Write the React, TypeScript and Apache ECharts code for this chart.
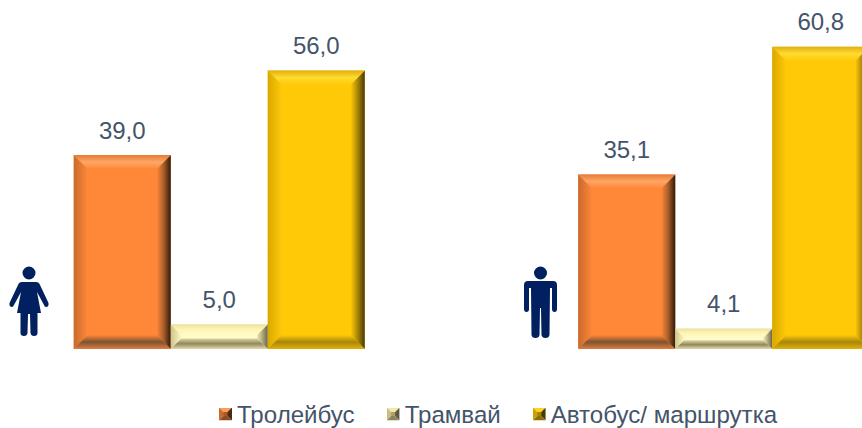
import React, { useEffect, useRef } from "react";
import * as echarts from "echarts";

const categories = ["Жінки", "Чоловіки"];
const trolleybus = [39.0, 35.1];
const tram = [5.0, 4.1];
const bus = [56.0, 60.8];
const seriesNames = ["Тролейбус", "Трамвай", "Автобус/ маршрутка"];
const seriesValues = [trolleybus, tram, bus];

const BAR_WIDTH = 97;
const TEXT = "#44546A";
const ICON_COLOR = "#002060";

const palettes = [
  {
    main: "#FF8738",
    top: ["#E67C38", "#FFA665", "#FF8738"],
    bottom: ["#FF8738", "#7D5230", "#DE7E40"],
    left: ["#C96A2E", "#FF8738"],
    right: ["#FF8738", "#A85E2A", "#2E1A0C"],
    icon: ["#FF9A55", "#C96A2E", "#4A2A10", "#8A4C20", "#A85A28"],
  },
  {
    main: "#FFFBC8",
    top: ["#EDE0A6", "#FFF5B0", "#FFFBC8"],
    bottom: ["#E0D6A0", "#8F8860", "#E6DAA6"],
    left: ["#CFC48C", "#FFF8C0"],
    right: ["#EFE6B0", "#B0A878", "#69654A"],
    icon: ["#F2E6A8", "#C8BC80", "#5E5A40", "#8A8458", "#A89E70"],
  },
  {
    main: "#FFC908",
    top: ["#E3AE10", "#FFDC30", "#FFC908"],
    bottom: ["#FFC908", "#A8860A", "#E2B008"],
    left: ["#D9A800", "#FFC908"],
    right: ["#FFC908", "#A98505", "#4A3A08"],
    icon: ["#FFD21E", "#D0A000", "#4A3A08", "#8F7004", "#A88404"],
  },
];

const womanPath =
  "M35.5 273A6.5 6.5 0 1 1 22.5 273A6.5 6.5 0 1 1 35.5 273Z" +
  "M22 282L36 282Q39 282 40 285L48.5 303Q49 307 46 307Q44.5 307 44 305L37 292L41 313L37.5 313L37.5 333Q37.5 336 34 336Q31 336 30.5 333L30 314L28 314L27.5 333Q27 336 24 336Q20.5 336 20.5 333L20.5 313L17 313L21 292L14 305Q13 307 12 307Q9 307 9.5 303L18 285Q19 282 22 282Z";
const manPath =
  "M547 273A6.5 6.5 0 1 1 534 273A6.5 6.5 0 1 1 547 273Z" +
  "M528 281L553 281Q557 281 557 285L557 309Q557 312 554.5 312Q552 312 552 309L552 288L550 288L549.5 335Q549 338 545.5 338Q542 338 541.5 335L541 308L540 308L539.5 335Q539 338 535.5 338Q532 338 531.5 335L531 288L529 288L529 309Q529 312 526.5 312Q524 312 524 309L524 285Q524 281 528 281Z";

echarts.graphic.registerShape("woman", echarts.graphic.extendPath(womanPath, {}));
echarts.graphic.registerShape("man", echarts.graphic.extendPath(manPath, {}));

const grad = (x2: number, y2: number, colors: string[]) =>
  new echarts.graphic.LinearGradient(
    0,
    0,
    x2,
    y2,
    colors.map((color, i) => ({ offset: i / (colors.length - 1), color }))
  );

const legendIcon = (c: string[]) => {
  const svg = `<svg xmlns="http://www.w3.org/2000/svg" width="13" height="13"><polygon points="0,0 13,0 6.5,6.5" fill="${c[0]}"/><polygon points="0,0 6.5,6.5 0,13" fill="${c[1]}"/><polygon points="13,0 13,13 6.5,6.5" fill="${c[2]}"/><polygon points="0,13 13,13 6.5,6.5" fill="${c[3]}"/><rect x="4.5" y="4.5" width="4" height="4" fill="${c[4]}"/></svg>`;
  return "image://data:image/svg+xml;charset=utf-8," + encodeURIComponent(svg);
};

const bevelRender = (seriesIndex: number) => (_: any, api: any) => {
  const p = palettes[seriesIndex];
  const idx = api.value(0);
  const val = api.value(1);
  const base = api.coord([idx, 0]);
  const topPt = api.coord([idx, val]);
  const x0 = base[0] + (seriesIndex - 1.5) * BAR_WIDTH;
  const x1 = x0 + BAR_WIDTH;
  const y0 = topPt[1];
  const y1 = base[1];
  const t = Math.min(14, ((y1 - y0) / 2) * 0.85);
  const poly = (points: number[][], fill: any) => ({
    type: "polygon",
    shape: { points },
    style: { fill },
    silent: true,
  });
  return {
    type: "group",
    children: [
      poly([[x0, y0], [x0 + t, y0 + t], [x0 + t, y1 - t], [x0, y1]], grad(1, 0, p.left)),
      poly([[x1, y0], [x1, y1], [x1 - t, y1 - t], [x1 - t, y0 + t]], grad(1, 0, p.right)),
      poly([[x0, y0], [x1, y0], [x1 - t, y0 + t], [x0 + t, y0 + t]], grad(0, 1, p.top)),
      poly([[x0, y1], [x0 + t, y1 - t], [x1 - t, y1 - t], [x1, y1]], grad(0, 1, p.bottom)),
    ],
  };
};

export default function App() {
  const ref = useRef<HTMLDivElement>(null);
  useEffect(() => {
    document.body.style.margin = "0";
    document.body.style.overflow = "hidden";
    const chart = echarts.init(ref.current!, undefined, { renderer: "svg" });
    const barSeries = seriesNames.map((name, i) => ({
      type: "bar",
      name,
      data: seriesValues[i],
      barWidth: BAR_WIDTH,
      barGap: 0,
      itemStyle: { color: palettes[i].main },
      label: {
        show: true,
        position: "top",
        distance: 13,
        color: TEXT,
        fontFamily: "Liberation Sans",
        fontSize: 24,
        formatter: (p: any) => p.value.toFixed(1).replace(".", ","),
      },
      z: 2,
    }));
    const bevelSeries = seriesNames.map((_, i) => ({
      type: "custom",
      name: "bevel" + i,
      data: seriesValues[i].map((v, j) => [j, v]),
      renderItem: bevelRender(i),
      encode: { x: 0, y: 1 },
      silent: true,
      clip: false,
      z: 3,
    }));
    chart.setOption({
      animation: false,
      backgroundColor: "#fff",
      grid: { left: -33, top: 1, width: 1009, height: 348, outerBoundsMode: "none" },
      xAxis: {
        type: "category",
        data: categories,
        axisLine: { show: false },
        axisTick: { show: false },
        axisLabel: { show: false },
      },
      yAxis: { type: "value", min: 0, max: 70, show: false },
      legend: {
        left: 219,
        top: 402,
        itemWidth: 13,
        itemHeight: 13,
        itemGap: 32,
        padding: 0,
        data: seriesNames.map((name, i) => ({ name, icon: legendIcon(palettes[i].icon) })),
        textStyle: {
          color: TEXT,
          fontFamily: "Liberation Sans",
          fontSize: 24.1,
          padding: [0, 0, 0, 0],
        },
        selectedMode: false,
      },
      graphic: [
        { type: "woman", x: 0, y: 0, style: { fill: ICON_COLOR }, silent: true },
        { type: "man", x: 0, y: 0, style: { fill: ICON_COLOR }, silent: true },
      ],
      series: [...barSeries, ...bevelSeries],
    });
    return () => chart.dispose();
  }, []);
  return <div ref={ref} style={{ width: 862, height: 428 }} />;
}
